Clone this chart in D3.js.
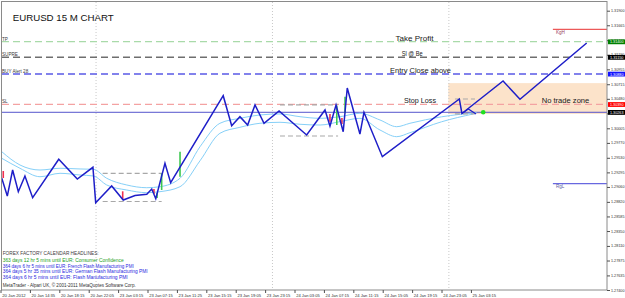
<!DOCTYPE html>
<html>
<head>
<meta charset="utf-8">
<script src="https://cdn.jsdelivr.net/npm/d3@7"></script>
<style>
body { margin: 0; background: #fff; }
svg { display: block; font-family: "Liberation Sans", Arial, sans-serif; }
</style>
</head>
<body>
<div id="chart"></div>
<script>
// Chart data (bar index = 15 min bars, price = EURUSD)
var timeLabels = ["20 Jan 2012", "20 Jan 14:35", "20 Jan 18:15", "20 Jan 22:05", "23 Jan 03:15",
  "23 Jan 07:15", "23 Jan 11:25", "23 Jan 15:15", "23 Jan 19:05", "23 Jan 23:15", "24 Jan 03:05",
  "24 Jan 07:15", "24 Jan 11:15", "24 Jan 15:05", "24 Jan 19:15", "24 Jan 23:05", "25 Jan 03:15"];

var priceTicks = [1.27400, 1.27635, 1.27875, 1.28110, 1.28350, 1.28585, 1.28820, 1.29060, 1.29295,
  1.29530, 1.29770, 1.30005, 1.30245, 1.30480, 1.30715, 1.30955, 1.31190, 1.31425, 1.31665, 1.31900];

var daySeparators = [52, 148, 244];

var zigzag = [[0.7, 1.29200], [3.7, 1.28914], [6.6, 1.29333], [9.7, 1.28984], [13.3, 1.29237],
  [17.5, 1.28887], [31.7, 1.29506], [41.8, 1.29188], [50.3, 1.29377], [51.8, 1.28807],
  [60.5, 1.29076], [66.8, 1.28850], [73.2, 1.28923], [79.6, 1.28942], [82.3, 1.29027],
  [84.5, 1.28871], [89.5, 1.29441], [92.6, 1.29129], [121.2, 1.30530], [125.8, 1.30047],
  [130.3, 1.30192], [134.5, 1.30058], [138.5, 1.30381], [143.4, 1.30086], [151.6, 1.30284],
  [166.6, 1.29897], [176.6, 1.30300], [179.3, 1.30042], [182.6, 1.30381], [186.5, 1.29950],
  [188.7, 1.30655], [195.6, 1.29913], [197.8, 1.30263], [207.8, 1.29548], [249.7, 1.30477],
  [251.1, 1.30244], [273.5, 1.30767], [282.7, 1.30472], [319.0, 1.31380]];

var zigTail = [[251.1, 1.30244], [254.6, 1.30316], [258.8, 1.30236]];

var maUpper = [[0.7, 1.29628], [10.6, 1.29414], [21.5, 1.29333], [32.4, 1.29361], [43.3, 1.29350],
  [50.5, 1.29345], [57.8, 1.29200], [68.7, 1.29092], [79.6, 1.29048], [86.8, 1.29064],
  [97.7, 1.29200], [108.6, 1.29709], [119.4, 1.30086], [130.3, 1.30166], [141.2, 1.30220],
  [152.1, 1.30236], [163.0, 1.30192], [173.9, 1.30166], [184.7, 1.30192], [195.6, 1.30247],
  [206.5, 1.30139], [215.6, 1.30031], [222.8, 1.30086], [240.0, 1.30190], [259.1, 1.30257]];

var maLower = [[0.7, 1.29522], [10.6, 1.29361], [21.5, 1.29225], [32.4, 1.29280], [43.3, 1.29253],
  [50.5, 1.29237], [57.8, 1.29092], [68.7, 1.29011], [79.6, 1.28968], [86.8, 1.28984],
  [97.7, 1.29064], [108.6, 1.29483], [119.4, 1.29925], [130.3, 1.30021], [141.2, 1.30086],
  [152.1, 1.30102], [163.0, 1.30070], [173.9, 1.30058], [184.7, 1.30112], [195.6, 1.30166],
  [206.5, 1.29978], [215.6, 1.29870], [222.8, 1.29934], [240.0, 1.30110], [257.2, 1.30236]];

var candles = [
  {bar: 1.5, hi: 1.29317, lo: 1.29204, up: false},
  {bar: 66.5, hi: 1.28990, lo: 1.28861, up: false},
  {bar: 83.5, hi: 1.29027, lo: 1.28947, up: false},
  {bar: 85.2, hi: 1.28963, lo: 1.28882, up: true},
  {bar: 87.7, hi: 1.29280, lo: 1.29011, up: true},
  {bar: 97.7, hi: 1.29628, lo: 1.29225, up: true},
  {bar: 179.3, hi: 1.30236, lo: 1.30112, up: false},
  {bar: 183.0, hi: 1.30365, lo: 1.30058, up: true},
  {bar: 185.8, hi: 1.30171, lo: 1.30074, up: false},
  {bar: 187.5, hi: 1.30514, lo: 1.30247, up: true}];

var rangeBoxes = [
  {from: 55.6, to: 87.7, hi: 1.29280, lo: 1.28826},
  {from: 152.1, to: 183.7, hi: 1.30381, lo: 1.29881},
  {from: 247.3, to: 258.2, hi: 1.30477, lo: 1.30236}];

var levelNames = ["TP", "SUPRE", "BUY Alert 28", "SL", "Close"];
var levelPrices = [1.31400, 1.31150, 1.30880, 1.30390, 1.30263];

var noTradeZone = {from: 243.7, to: 330, hi: 1.30733, lo: 1.30236};
var kgh = {from: 300.6, price: 1.31600};
var rgl = {from: 300.6, price: 1.29113};
var lastSignal = [262.7, 1.30263];

var notes = ["Take Profit", "Sl @ Be", "Entry Close above", "Stop Loss", "No trade zone"];
var headlines = ["FOREX FACTORY CALENDAR HEADLINES:",
  "363 days 12 hr 5 mins until EUR: Consumer Confidence",
  "364 days 6 hr 5 mins until EUR: French Flash Manufacturing PMI",
  "364 days 5 hr 35 mins until EUR: German Flash Manufacturing PMI",
  "364 days 6 hr 5 mins until EUR: Flash Manufacturing PMI",
  "MetaTrader - Alpari UK, \u00a9 2001-2011 MetaQuotes Software Corp."];

// SVG
var svgWidth = 625;
var svgHeight = 298;

var svg = d3.select("#chart")
  .append("svg")
  .attr("width", svgWidth)
  .attr("height", svgHeight);

var xScale = d3.scaleLinear().domain([0, 330]).range([0.5, 606.9]);
var yScale = d3.scaleLinear().domain([1.2740, 1.3204]).range([290, 2]);

// no trade zone
svg.append("rect")
  .attr("x", xScale(noTradeZone.from))
  .attr("y", yScale(noTradeZone.hi))
  .attr("width", xScale(noTradeZone.to) - xScale(noTradeZone.from))
  .attr("height", yScale(noTradeZone.lo) - yScale(noTradeZone.hi))
  .attr("fill", "#fce3ca");

// day separators
svg.selectAll(".sep")
  .data(daySeparators)
  .enter()
  .append("line")
  .attr("x1", d => xScale(d)).attr("x2", d => xScale(d))
  .attr("y1", 2).attr("y2", 290)
  .attr("stroke", "#c8c8c8")
  .attr("stroke-dasharray", "1,2");

// horizontal levels
var levelColors = ["#a9daa9", "#6e6e6e", "#5a5ae6", "#f4a2a2", "#5555cc"];
var levelDash = ["7,4", "7,4", "7,4", "7,4", null];
var boxColors = ["#008000", "#000000", "#1414ff", "#ff0000", "#000000"];

svg.selectAll(".level")
  .data(levelPrices)
  .enter()
  .append("line")
  .attr("x1", 2).attr("x2", 607)
  .attr("y1", d => yScale(d)).attr("y2", d => yScale(d))
  .attr("stroke", (d, i) => levelColors[i])
  .attr("stroke-width", (d, i) => i == 4 ? 1 : 1.3)
  .attr("stroke-dasharray", (d, i) => levelDash[i]);

svg.selectAll(".levelName")
  .data(levelNames.slice(0, 4))
  .enter()
  .append("text")
  .attr("x", 2)
  .attr("y", (d, i) => yScale(levelPrices[i]) - 1.2)
  .attr("font-size", "4.6px")
  .attr("fill", "#404040")
  .text(d => d);

// KgH / RgL
svg.append("line")
  .attr("x1", xScale(kgh.from)).attr("x2", 607)
  .attr("y1", yScale(kgh.price)).attr("y2", yScale(kgh.price))
  .attr("stroke", "#e83030");
svg.append("text")
  .attr("x", xScale(kgh.from) + 3).attr("y", yScale(kgh.price) + 4.6)
  .attr("font-size", "4.6px").attr("fill", "#9a4060")
  .text("KgH");
svg.append("line")
  .attr("x1", xScale(rgl.from)).attr("x2", 607)
  .attr("y1", yScale(rgl.price)).attr("y2", yScale(rgl.price))
  .attr("stroke", "#6868e0").attr("stroke-width", 1.2);
svg.append("text")
  .attr("x", xScale(rgl.from) + 3).attr("y", yScale(rgl.price) + 4.6)
  .attr("font-size", "4.6px").attr("fill", "#6060a0")
  .text("RgL");

// moving averages
var line = d3.line()
  .x(d => xScale(d[0]))
  .y(d => yScale(d[1]));
var smooth = d3.line()
  .x(d => xScale(d[0]))
  .y(d => yScale(d[1]))
  .curve(d3.curveMonotoneX);

[maUpper, maLower].forEach(function(ma) {
  svg.append("path")
    .attr("d", smooth(ma))
    .attr("fill", "none")
    .attr("stroke", "#86d0f8")
    .attr("stroke-width", 1);
});

// range boxes (gray dashed)
rangeBoxes.forEach(function(b) {
  [b.hi, b.lo].forEach(function(p) {
    svg.append("line")
      .attr("x1", xScale(b.from)).attr("x2", xScale(b.to))
      .attr("y1", yScale(p)).attr("y2", yScale(p))
      .attr("stroke", "#a8a8a8")
      .attr("stroke-width", 1.2)
      .attr("stroke-dasharray", "5,3");
  });
});

// candles
svg.selectAll(".candle")
  .data(candles)
  .enter()
  .append("line")
  .attr("x1", d => xScale(d.bar)).attr("x2", d => xScale(d.bar))
  .attr("y1", d => yScale(d.hi)).attr("y2", d => yScale(d.lo))
  .attr("stroke", d => d.up ? "#3cc850" : "#f03050")
  .attr("stroke-width", 1.6);

// zigzag
svg.append("path")
  .attr("d", line(zigzag))
  .attr("fill", "none")
  .attr("stroke", "#1e1ec8")
  .attr("stroke-width", 1.5);
svg.append("path")
  .attr("d", line(zigTail))
  .attr("fill", "none")
  .attr("stroke", "#1e1ec8")
  .attr("stroke-width", 1.2);

svg.append("circle")
  .attr("cx", xScale(lastSignal[0]))
  .attr("cy", yScale(lastSignal[1]))
  .attr("r", 2.3)
  .attr("fill", "#20e020");

// notes
var noteX = [395.5, 401.7, 390, 404, 541.7];
var notePrice = [levelPrices[0], levelPrices[1], levelPrices[2], levelPrices[3], levelPrices[3]];
var noteWidth = [38, 21, 61, 32, 47.6];
svg.selectAll(".note")
  .data(notes)
  .enter()
  .append("text")
  .attr("x", (d, i) => noteX[i])
  .attr("y", (d, i) => yScale(notePrice[i]) - 1.2)
  .attr("font-size", "7.5px")
  .attr("fill", "#202020")
  .attr("textLength", (d, i) => noteWidth[i])
  .attr("lengthAdjust", "spacingAndGlyphs")
  .text(d => d);

// title
svg.append("text")
  .attr("x", 12.7).attr("y", 20.7)
  .attr("font-size", "9.5px")
  .attr("fill", "#101010")
  .attr("textLength", 101)
  .attr("lengthAdjust", "spacingAndGlyphs")
  .text("EURUSD 15 M  CHART");

// headlines
var headlineColors = ["#404040", "#22a022", "#2828e0", "#2828e0", "#2828e0", "#303030"];
var headlineY = [255, 262.3, 267.7, 273, 278.7, 287.3];
var headlineW = [96, 121, 131, 145, 125, 133];
svg.selectAll(".headline")
  .data(headlines)
  .enter()
  .append("text")
  .attr("x", 2.7)
  .attr("y", (d, i) => headlineY[i])
  .attr("font-size", "5px")
  .attr("fill", (d, i) => headlineColors[i])
  .attr("textLength", (d, i) => headlineW[i])
  .attr("lengthAdjust", "spacingAndGlyphs")
  .text(d => d);

// frame
svg.append("rect")
  .attr("x", 1.5).attr("y", 1.5)
  .attr("width", 605.5).attr("height", 288.5)
  .attr("fill", "none")
  .attr("stroke", "#8a8a8a");

// axes
var rightAxis = d3.axisRight(yScale)
  .tickValues(priceTicks)
  .tickFormat(d => d.toFixed(5))
  .tickSize(3);
var bottomAxis = d3.axisBottom(xScale)
  .tickValues(timeLabels.map((d, i) => i * 16))
  .tickFormat((d, i) => timeLabels[i])
  .tickSize(3);

var ra = svg.append("g")
  .attr("transform", "translate(607, 0)")
  .call(rightAxis);
ra.select(".domain").remove();
ra.selectAll("line").attr("stroke", "#505050");
ra.selectAll("text")
  .attr("x", 4)
  .attr("dy", "0.25em")
  .attr("font-size", "4px")
  .attr("font-family", "Liberation Sans, Arial, sans-serif")
  .attr("fill", "#303030")
  .attr("textLength", 13.5)
  .attr("lengthAdjust", "spacingAndGlyphs");

var ba = svg.append("g")
  .attr("transform", "translate(0, 290)")
  .call(bottomAxis);
ba.select(".domain").remove();
ba.selectAll("line").attr("stroke", "#505050");
ba.selectAll("text")
  .attr("text-anchor", "start")
  .attr("x", 1.2)
  .attr("y", 6.8)
  .attr("dy", null)
  .attr("font-size", "4.4px")
  .attr("font-family", "Liberation Sans, Arial, sans-serif")
  .attr("fill", "#303030")
  .attr("textLength", 23.5)
  .attr("lengthAdjust", "spacingAndGlyphs");

// price boxes on the axis
levelPrices.forEach(function(p, i) {
  svg.append("rect")
    .attr("x", 608).attr("y", yScale(p) - 2.3)
    .attr("width", 17).attr("height", 4.8)
    .attr("fill", boxColors[i]);
  svg.append("text")
    .attr("x", 610).attr("y", yScale(p) + 1.5)
    .attr("font-size", "4px")
    .attr("fill", "#ffffff")
    .attr("textLength", 13.5)
    .attr("lengthAdjust", "spacingAndGlyphs")
    .text(p.toFixed(5));
});
</script>
</body>
</html>
